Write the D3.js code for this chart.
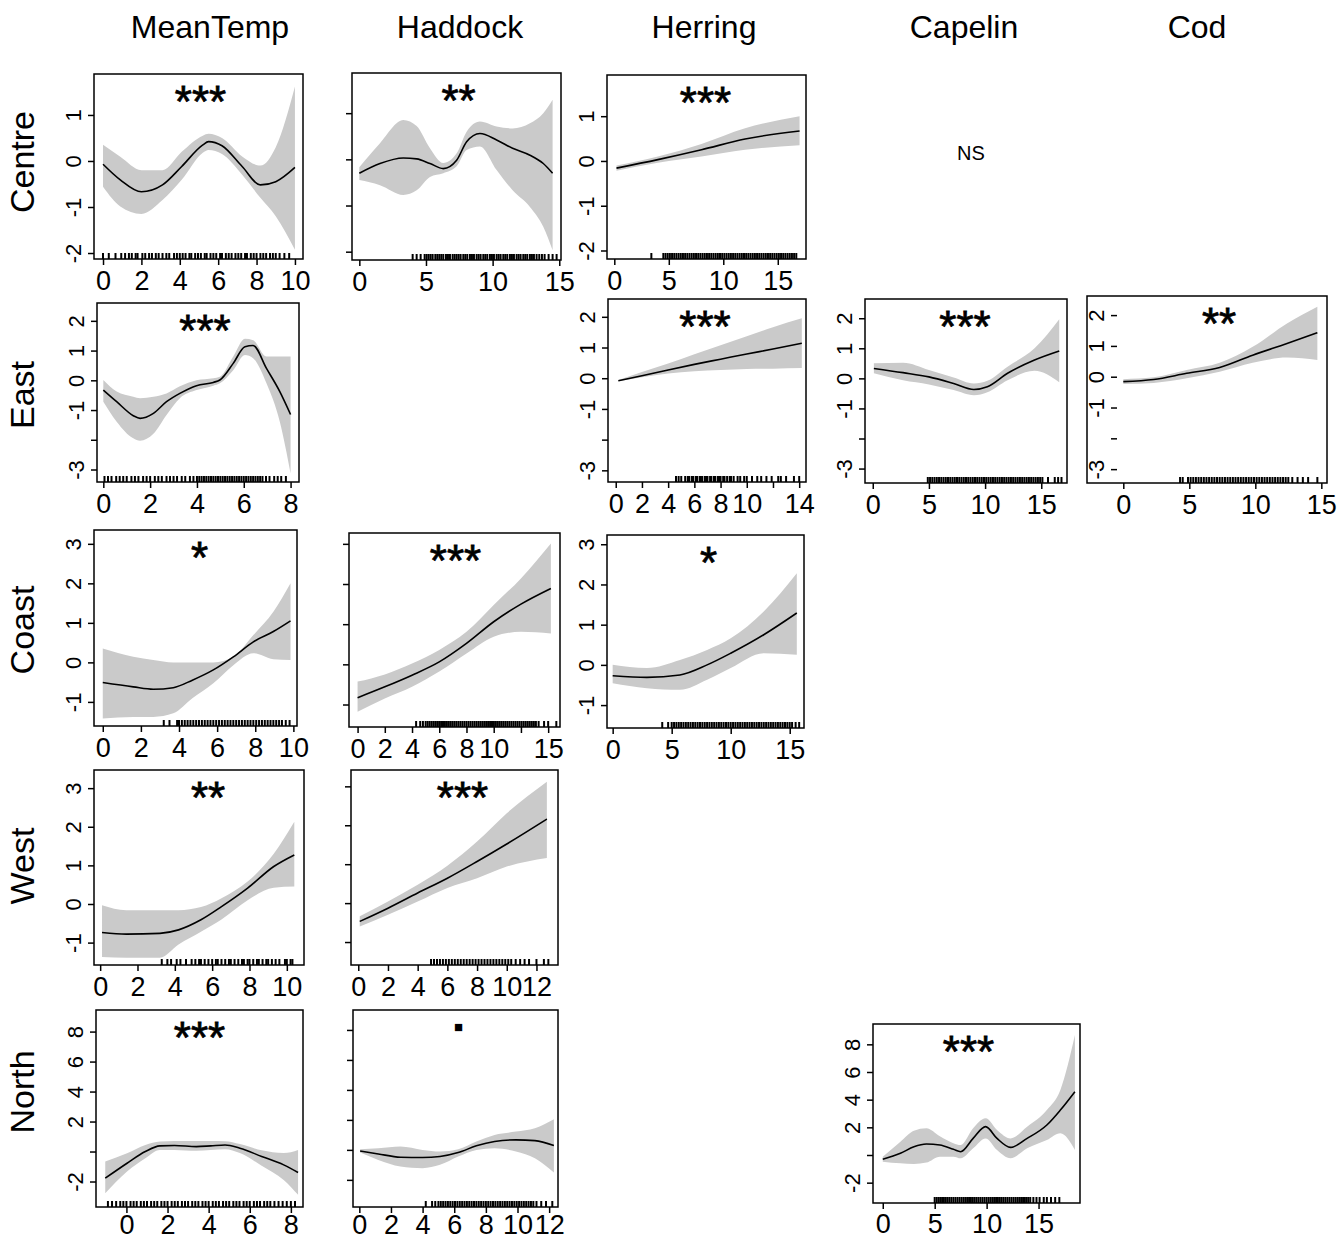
<!DOCTYPE html>
<html lang="en">
<head>
<meta charset="UTF-8">
<title>Smooth effects by region</title>
<script src="https://d3js.org/d3.v7.min.js"></script>
<style>
  body { margin: 0; background: #fff; }
  svg { display: block; font-family: "Liberation Sans", Arial, sans-serif; }
  .band { fill: #cacaca; stroke: none; }
  .fit { fill: none; stroke: #000; stroke-width: 1.6px; }
  .box { fill: none; stroke: #000; stroke-width: 1.5px; }
  .rug { stroke: #000; stroke-width: 2px; }
  .tick line { stroke: #000; stroke-width: 1.5px; }
  .sig { stroke: #000; stroke-width: 0.8px; }
</style>
</head>
<body>
<svg width="1340" height="1241"></svg>
<script>
// ---- labels ----
const columns = ["MeanTemp", "Haddock", "Herring", "Capelin", "Cod"];
const rows = ["Centre", "East", "Coast", "West", "North"];

// ---- tick values / labels ----
const xT10by2 = [0, 2, 4, 6, 8, 10];
const xT8by2 = [0, 2, 4, 6, 8];
const xT12by2 = [0, 2, 4, 6, 8, 10, 12];
const xT14by2 = [0, 2, 4, 6, 8, 10, 12, 14];
const xT15by5 = [0, 5, 10, 15];
const xL14East = ["0", "2", "4", "6", "8", "10", "", "14"];
const xL14Coast = ["0", "2", "4", "6", "8", "10", "", "15"];
const yTcentre = [-2, -1, 0, 1];
const yTeast = [-3, -2, -1, 0, 1, 2];
const yLeast = ["-3", "", "-1", "0", "1", "2"];
const yTcoast = [-1, 0, 1, 2, 3];
const yTnorth = [-2, 0, 2, 4, 6, 8];
const yLnorth = ["-2", "", "2", "4", "6", "8"];

// ---- Centre ----
const centreTempX   = [0, 0.9, 2.0, 3.1, 4.1, 5.2, 5.5, 6.2, 7.25, 8.2, 9.0, 10];
const centreTempFit = [-0.07, -0.41, -0.67, -0.52, -0.12, 0.35, 0.42, 0.33, -0.12, -0.52, -0.45, -0.14];
const centreTempHi  = [0.35, 0.09, -0.2, -0.2, 0.2, 0.55, 0.59, 0.5, 0.1, -0.1, 0.3, 1.62];
const centreTempLo  = [-0.56, -0.99, -1.15, -0.85, -0.41, 0.18, 0.24, 0.15, -0.3, -0.8, -1.2, -1.93];
const centreTempRug = [0, 0.3, 0.65, 0.95, 1.15, 1.35, 1.5, 1.7, 1.8, 2.05, 2.2, 2.4, 2.55, 2.75, 2.9, 3.1, 3.3, 3.45, 3.7, 3.85, 4.0, 4.15, 4.3, 4.5, 4.6, 4.8, 4.95, 5.1, 5.3, 5.4, 5.6, 5.75, 5.9, 6.1, 6.2, 6.4, 6.55, 6.7, 6.9, 7.05, 7.2, 7.4, 7.5, 7.7, 7.85, 8.0, 8.2, 8.35, 8.5, 8.7, 8.85, 9.0, 9.2, 9.45, 9.7];

const centreHaddockX   = [0, 1.55, 3.3, 4.3, 5.3, 6.3, 7.3, 8.05, 9.05, 10.3, 11.5, 12.8, 13.8, 14.5];
const centreHaddockFit = [-0.3, -0.09, 0.03, 0.01, -0.09, -0.2, -0.02, 0.38, 0.56, 0.42, 0.24, 0.09, -0.09, -0.3];
const centreHaddockHi  = [-0.17, 0.35, 0.85, 0.72, 0.24, -0.08, 0.13, 0.6, 0.82, 0.71, 0.67, 0.78, 1.0, 1.29];
const centreHaddockLo  = [-0.45, -0.56, -0.77, -0.67, -0.38, -0.3, -0.15, 0.2, 0.28, -0.23, -0.67, -1.03, -1.46, -1.97];
const centreHaddockRug = [4.0, 4.3, 4.6, 4.9, 5.05, 5.2, 5.35, 5.5, 5.7, 5.85, 6.0, 6.15, 6.3, 6.5, 6.65, 6.8, 7.0, 7.15, 7.3, 7.45, 7.6, 7.8, 7.95, 8.1, 8.3, 8.45, 8.6, 8.8, 8.95, 9.1, 9.3, 9.45, 9.6, 9.8, 9.95, 10.1, 10.3, 10.45, 10.6, 10.8, 10.95, 11.1, 11.3, 11.45, 11.6, 11.8, 11.95, 12.1, 12.3, 12.45, 12.6, 12.8, 12.95, 13.1, 13.3, 13.5, 13.7, 13.9, 14.2, 14.5, 14.8];

const centreHerringX   = [0.2, 4, 8, 12, 17];
const centreHerringFit = [-0.16, 0.03, 0.25, 0.49, 0.67];
const centreHerringHi  = [-0.1, 0.1, 0.38, 0.73, 1.0];
const centreHerringLo  = [-0.22, -0.04, 0.1, 0.25, 0.35];
const centreHerringRug = [3.4, 4.5, 4.7, 4.9, 5.1, 5.3, 5.5, 5.7, 5.9, 6.1, 6.3, 6.5, 6.7, 6.9, 7.1, 7.3, 7.5, 7.7, 7.9, 8.1, 8.3, 8.5, 8.7, 8.9, 9.1, 9.3, 9.5, 9.7, 9.9, 10.1, 10.3, 10.5, 10.7, 10.9, 11.1, 11.3, 11.5, 11.7, 11.9, 12.1, 12.3, 12.5, 12.7, 12.9, 13.1, 13.3, 13.5, 13.7, 13.9, 14.1, 14.3, 14.5, 14.7, 14.9, 15.1, 15.3, 15.5, 15.7, 15.9, 16.1, 16.3, 16.5, 16.7];

// ---- East ----
const eastTempX   = [0, 0.57, 1.28, 1.57, 2.14, 2.7, 3.27, 3.98, 4.7, 4.98, 5.55, 6.05, 6.4, 6.97, 7.54, 8.0];
const eastTempFit = [-0.33, -0.72, -1.19, -1.28, -1.11, -0.72, -0.44, -0.18, -0.07, 0.01, 0.57, 1.13, 1.17, 0.4, -0.38, -1.15];
const eastTempHi  = [0.01, -0.38, -0.55, -0.6, -0.55, -0.44, -0.2, 0.0, 0.07, 0.12, 0.8, 1.4, 1.35, 0.8, 0.8, 0.8];
const eastTempLo  = [-0.72, -1.39, -1.95, -2.03, -1.8, -1.17, -0.6, -0.33, -0.18, -0.1, 0.34, 0.85, 0.74, -0.1, -1.39, -3.13];
const eastTempRug = [0.05, 0.2, 0.35, 0.55, 0.7, 0.85, 1.0, 1.2, 1.35, 1.5, 1.7, 1.85, 2.0, 2.2, 2.35, 2.5, 2.7, 2.85, 3.0, 3.15, 3.35, 3.5, 3.7, 3.85, 4.0, 4.1, 4.2, 4.3, 4.4, 4.5, 4.6, 4.7, 4.8, 4.9, 5.0, 5.1, 5.2, 5.3, 5.4, 5.5, 5.6, 5.7, 5.8, 5.9, 6.0, 6.1, 6.2, 6.3, 6.4, 6.5, 6.6, 6.7, 6.8, 6.95, 7.1, 7.3, 7.45, 7.6, 7.8];

const eastHerringX   = [0.2, 2, 4, 6, 8, 10, 12, 14.2];
const eastHerringFit = [-0.08, 0.08, 0.27, 0.45, 0.62, 0.79, 0.95, 1.14];
const eastHerringHi  = [-0.06, 0.2, 0.48, 0.78, 1.07, 1.37, 1.66, 1.95];
const eastHerringLo  = [-0.1, 0.03, 0.15, 0.23, 0.27, 0.3, 0.31, 0.33];
const eastHerringRug = [4.6, 4.8, 5.0, 5.3, 5.5, 5.6, 5.8, 5.9, 6.1, 6.2, 6.4, 6.5, 6.6, 6.8, 6.9, 7.0, 7.2, 7.3, 7.5, 7.6, 7.8, 7.9, 8.0, 8.2, 8.3, 8.5, 8.7, 8.8, 9.0, 9.3, 9.5, 9.8, 10.0, 10.4, 10.8, 11.1, 11.5, 11.9, 12.4, 12.6, 13.0, 13.6, 14.0];

const eastCapelinX   = [0.1, 2.7, 5, 7.2, 9, 10.2, 12, 14.4, 16.6];
const eastCapelinFit = [0.33, 0.19, 0.05, -0.17, -0.37, -0.28, 0.17, 0.61, 0.91];
const eastCapelinHi  = [0.5, 0.52, 0.28, 0.03, -0.17, -0.08, 0.39, 1.0, 1.97];
const eastCapelinLo  = [0.17, -0.06, -0.2, -0.39, -0.56, -0.46, -0.06, 0.25, -0.13];
const eastCapelinRug = [4.9, 5.1, 5.3, 5.5, 5.7, 5.9, 6.1, 6.3, 6.5, 6.7, 6.9, 7.1, 7.3, 7.5, 7.7, 7.9, 8.1, 8.3, 8.5, 8.7, 8.9, 9.1, 9.3, 9.5, 9.7, 9.9, 10.1, 10.3, 10.5, 10.7, 10.9, 11.1, 11.3, 11.5, 11.7, 11.9, 12.1, 12.3, 12.5, 12.7, 12.9, 13.1, 13.3, 13.5, 13.7, 13.9, 14.1, 14.3, 14.5, 14.7, 14.9, 15.1, 15.6, 16.2, 16.5, 16.8];

const eastCodX   = [0, 2.3, 4.8, 7.3, 9.8, 12.4, 14.7];
const eastCodFit = [-0.16, -0.09, 0.11, 0.3, 0.7, 1.08, 1.43];
const eastCodHi  = [-0.08, -0.02, 0.22, 0.45, 0.97, 1.73, 2.27];
const eastCodLo  = [-0.24, -0.2, -0.05, 0.16, 0.45, 0.62, 0.54];
const eastCodRug = [4.3, 4.5, 4.9, 5.1, 5.3, 5.5, 5.7, 5.9, 6.1, 6.3, 6.5, 6.7, 6.9, 7.1, 7.3, 7.5, 7.7, 7.9, 8.1, 8.3, 8.5, 8.7, 8.9, 9.1, 9.3, 9.5, 9.7, 9.9, 10.1, 10.3, 10.5, 10.7, 10.9, 11.1, 11.3, 11.5, 11.7, 11.9, 12.1, 12.3, 12.5, 12.8, 13.2, 13.6, 14.0, 14.7];

// ---- Coast ----
const coastTempX   = [0, 1.6, 2.65, 3.7, 4.7, 5.8, 6.85, 7.9, 8.95, 9.85];
const coastTempFit = [-0.51, -0.62, -0.68, -0.64, -0.45, -0.19, 0.14, 0.52, 0.78, 1.05];
const coastTempHi  = [0.35, 0.14, 0.06, 0.0, 0.0, 0.0, 0.14, 0.69, 1.28, 2.0];
const coastTempLo  = [-1.42, -1.38, -1.38, -1.29, -0.91, -0.53, -0.07, 0.23, 0.08, 0.06];
const coastTempRug = [3.2, 3.5, 3.9, 4.0, 4.15, 4.3, 4.45, 4.6, 4.75, 4.9, 5.05, 5.2, 5.35, 5.5, 5.65, 5.8, 5.95, 6.1, 6.25, 6.4, 6.55, 6.7, 6.85, 7.0, 7.15, 7.3, 7.45, 7.6, 7.75, 7.9, 8.05, 8.2, 8.35, 8.5, 8.65, 8.8, 8.95, 9.1, 9.25, 9.4, 9.6, 9.8];

const coastHaddockX   = [0, 2, 4, 6, 8, 10, 12, 14.2];
const coastHaddockFit = [-0.83, -0.56, -0.27, 0.06, 0.52, 1.06, 1.5, 1.89];
const coastHaddockHi  = [-0.43, -0.25, 0.02, 0.36, 0.81, 1.48, 2.14, 3.01];
const coastHaddockLo  = [-1.18, -0.85, -0.56, -0.18, 0.27, 0.69, 0.81, 0.77];
const coastHaddockRug = [4.3, 4.6, 4.8, 5.0, 5.15, 5.3, 5.45, 5.6, 5.75, 5.9, 6.05, 6.2, 6.35, 6.5, 6.65, 6.8, 6.95, 7.1, 7.25, 7.4, 7.55, 7.7, 7.85, 8.0, 8.15, 8.3, 8.45, 8.6, 8.75, 8.9, 9.05, 9.2, 9.35, 9.5, 9.65, 9.8, 9.95, 10.1, 10.25, 10.4, 10.55, 10.7, 10.85, 11.0, 11.15, 11.3, 11.45, 11.6, 11.75, 11.9, 12.05, 12.2, 12.35, 12.5, 12.65, 12.8, 12.95, 13.1, 13.3, 13.7, 14.0, 14.6];

const coastHerringX   = [0, 2.9, 5.7, 8, 10, 12.8, 15.6];
const coastHerringFit = [-0.27, -0.31, -0.25, 0.0, 0.29, 0.75, 1.29];
const coastHerringHi  = [0.0, -0.08, 0.12, 0.37, 0.66, 1.33, 2.28];
const coastHerringLo  = [-0.46, -0.58, -0.62, -0.37, -0.08, 0.29, 0.25];
const coastHerringRug = [4.2, 4.7, 5.0, 5.2, 5.4, 5.6, 5.8, 6.0, 6.2, 6.4, 6.6, 6.8, 7.0, 7.2, 7.4, 7.6, 7.8, 8.0, 8.2, 8.4, 8.6, 8.8, 9.0, 9.2, 9.4, 9.6, 9.8, 10.0, 10.2, 10.4, 10.6, 10.8, 11.0, 11.2, 11.4, 11.6, 11.8, 12.0, 12.2, 12.4, 12.6, 12.8, 13.0, 13.2, 13.4, 13.6, 13.8, 14.0, 14.2, 14.4, 14.6, 14.8, 15.0, 15.2, 15.5, 15.8];

// ---- West ----
const westTempX   = [0.1, 1.4, 3.2, 4.2, 5.4, 6.5, 7.9, 9.3, 10.4];
const westTempFit = [-0.74, -0.78, -0.76, -0.67, -0.41, -0.07, 0.41, 0.97, 1.27];
const westTempHi  = [-0.03, -0.16, -0.16, -0.16, -0.08, 0.15, 0.58, 1.3, 2.13];
const westTempLo  = [-1.37, -1.39, -1.39, -1.05, -0.72, -0.4, 0.1, 0.42, 0.45];
const westTempRug = [3.3, 3.6, 3.8, 4.1, 4.3, 4.6, 4.9, 5.1, 5.3, 5.4, 5.6, 5.8, 6.0, 6.2, 6.3, 6.5, 6.7, 6.9, 7.0, 7.2, 7.4, 7.6, 7.7, 7.9, 8.0, 8.2, 8.4, 8.5, 8.7, 8.9, 9.0, 9.2, 9.4, 9.6, 9.9, 10.0, 10.2, 10.3];

const westHaddockX   = [0.1, 2, 4, 6, 8, 10, 12.7];
const westHaddockFit = [-0.47, -0.13, 0.26, 0.64, 1.07, 1.52, 2.16];
const westHaddockHi  = [-0.34, 0.04, 0.47, 0.96, 1.58, 2.31, 3.12];
const westHaddockLo  = [-0.6, -0.3, 0.04, 0.39, 0.64, 0.94, 1.16];
const westHaddockRug = [4.9, 5.1, 5.3, 5.5, 5.7, 5.9, 6.1, 6.3, 6.5, 6.7, 6.9, 7.1, 7.3, 7.5, 7.7, 7.9, 8.1, 8.3, 8.5, 8.7, 8.9, 9.1, 9.3, 9.5, 9.7, 9.9, 10.1, 10.3, 10.6, 10.9, 11.2, 11.5, 12.0, 12.5, 12.8];

// ---- North ----
const northTempX   = [-1.03, 0.03, 0.92, 1.63, 2.34, 3.4, 4.1, 4.8, 5.52, 6.58, 7.65, 8.35];
const northTempFit = [-1.78, -0.78, 0.0, 0.38, 0.4, 0.33, 0.38, 0.44, 0.22, -0.33, -0.89, -1.4];
const northTempHi  = [-0.67, -0.11, 0.44, 0.67, 0.71, 0.71, 0.71, 0.69, 0.5, 0.08, -0.1, 0.11];
const northTempLo  = [-2.78, -1.33, -0.44, 0.11, 0.11, 0.05, 0.11, 0.16, -0.1, -0.95, -1.9, -2.89];
const northTempRug = [-0.9, -0.7, -0.5, -0.3, -0.15, 0.0, 0.2, 0.35, 0.5, 0.7, 0.85, 1.0, 1.2, 1.35, 1.5, 1.7, 1.85, 2.0, 2.2, 2.35, 2.5, 2.7, 2.85, 3.0, 3.2, 3.35, 3.5, 3.7, 3.85, 4.0, 4.2, 4.35, 4.5, 4.7, 4.85, 5.0, 5.2, 5.35, 5.5, 5.7, 5.85, 6.0, 6.2, 6.35, 6.5, 6.7, 6.85, 7.0, 7.2, 7.4, 7.6, 7.8, 8.0, 8.2];

const northHaddockX   = [0.05, 1.2, 2.6, 4.0, 5.1, 6.25, 7.4, 8.55, 9.9, 11.1, 12.3];
const northHaddockFit = [-0.07, -0.27, -0.49, -0.51, -0.44, -0.18, 0.27, 0.56, 0.67, 0.62, 0.29];
const northHaddockHi  = [0.04, 0.11, 0.22, 0.0, -0.11, 0.04, 0.56, 1.0, 1.22, 1.44, 2.04];
const northHaddockLo  = [-0.18, -0.67, -1.11, -1.22, -1.0, -0.44, 0.0, 0.11, -0.11, -0.56, -1.51];
const northHaddockRug = [4.2, 4.6, 4.8, 5.0, 5.15, 5.3, 5.45, 5.6, 5.75, 5.9, 6.05, 6.2, 6.35, 6.5, 6.65, 6.8, 6.95, 7.1, 7.25, 7.4, 7.55, 7.7, 7.85, 8.0, 8.15, 8.3, 8.45, 8.6, 8.75, 8.9, 9.05, 9.2, 9.35, 9.5, 9.65, 9.8, 9.95, 10.1, 10.25, 10.4, 10.55, 10.7, 10.85, 11.0, 11.2, 11.5, 11.8, 12.2];

const northCapelinX   = [0, 1.7, 3.0, 4.2, 5.5, 6.8, 7.5, 8.7, 9.9, 11.0, 12.3, 13.9, 15.8, 17.1, 18.5];
const northCapelinFit = [-0.31, 0.12, 0.6, 0.8, 0.72, 0.41, 0.24, 1.2, 2.05, 1.2, 0.55, 1.2, 2.17, 3.25, 4.58];
const northCapelinHi  = [-0.12, 0.96, 1.75, 1.93, 1.35, 0.85, 0.72, 1.93, 2.65, 1.81, 1.2, 2.05, 3.25, 4.7, 8.67];
const northCapelinLo  = [-0.48, -0.6, -0.65, -0.55, -0.12, -0.12, -0.24, 0.48, 1.2, 0.36, -0.24, 0.48, 1.08, 1.57, 0.36];
const northCapelinRug = [5.0, 5.2, 5.4, 5.6, 5.8, 6.0, 6.2, 6.4, 6.6, 6.8, 7.0, 7.2, 7.4, 7.6, 7.8, 8.0, 8.2, 8.4, 8.6, 8.8, 9.0, 9.2, 9.4, 9.6, 9.8, 10.0, 10.2, 10.4, 10.6, 10.8, 11.0, 11.2, 11.4, 11.6, 11.8, 12.0, 12.2, 12.4, 12.6, 12.8, 13.0, 13.2, 13.4, 13.6, 13.8, 14.0, 14.2, 14.5, 14.8, 15.1, 15.5, 15.8, 16.2, 16.6, 17.0];

// significance codes per panel
const sigCodes = ["***", "**", "***", "***", "***", "***", "**", "*", "***", "*", "**", "***", "***", "\u25A0", "***"];

// ---- panels (data + axis spec) ----
const panels = [
  { x: centreTempX, fit: centreTempFit, hi: centreTempHi, lo: centreTempLo, rug: centreTempRug, xt: xT10by2, yt: yTcentre, yl: true },
  { x: centreHaddockX, fit: centreHaddockFit, hi: centreHaddockHi, lo: centreHaddockLo, rug: centreHaddockRug, xt: xT15by5, yt: yTcentre, yl: false },
  { x: centreHerringX, fit: centreHerringFit, hi: centreHerringHi, lo: centreHerringLo, rug: centreHerringRug, xt: xT15by5, yt: yTcentre, yl: true },
  { x: eastTempX, fit: eastTempFit, hi: eastTempHi, lo: eastTempLo, rug: eastTempRug, xt: xT8by2, yt: yTeast, yl: yLeast },
  { x: eastHerringX, fit: eastHerringFit, hi: eastHerringHi, lo: eastHerringLo, rug: eastHerringRug, xt: xT14by2, xl: xL14East, yt: yTeast, yl: yLeast },
  { x: eastCapelinX, fit: eastCapelinFit, hi: eastCapelinHi, lo: eastCapelinLo, rug: eastCapelinRug, xt: xT15by5, yt: yTeast, yl: yLeast },
  { x: eastCodX, fit: eastCodFit, hi: eastCodHi, lo: eastCodLo, rug: eastCodRug, xt: xT15by5, yt: yTeast, yl: yLeast },
  { x: coastTempX, fit: coastTempFit, hi: coastTempHi, lo: coastTempLo, rug: coastTempRug, xt: xT10by2, yt: yTcoast, yl: true },
  { x: coastHaddockX, fit: coastHaddockFit, hi: coastHaddockHi, lo: coastHaddockLo, rug: coastHaddockRug, xt: xT14by2, xl: xL14Coast, yt: yTcoast, yl: false },
  { x: coastHerringX, fit: coastHerringFit, hi: coastHerringHi, lo: coastHerringLo, rug: coastHerringRug, xt: xT15by5, yt: yTcoast, yl: true },
  { x: westTempX, fit: westTempFit, hi: westTempHi, lo: westTempLo, rug: westTempRug, xt: xT10by2, yt: yTcoast, yl: true },
  { x: westHaddockX, fit: westHaddockFit, hi: westHaddockHi, lo: westHaddockLo, rug: westHaddockRug, xt: xT12by2, yt: yTcoast, yl: false },
  { x: northTempX, fit: northTempFit, hi: northTempHi, lo: northTempLo, rug: northTempRug, xt: xT8by2, yt: yTnorth, yl: yLnorth },
  { x: northHaddockX, fit: northHaddockFit, hi: northHaddockHi, lo: northHaddockLo, rug: northHaddockRug, xt: xT12by2, yt: yTnorth, yl: false },
  { x: northCapelinX, fit: northCapelinFit, hi: northCapelinHi, lo: northCapelinLo, rug: northCapelinRug, xt: xT15by5, yt: yTnorth, yl: yLnorth }
];

// ---- layout: pixel box [left, right, top, bottom], axis limits, star offset, y-axis position ----
const layout = [
  { box: [94, 303, 74, 259],    xlim: [-0.47, 10.42], ylim: [-2.13, 1.89], sdx: 2 },
  { box: [352, 561, 73, 260],   xlim: [-0.55, 15.13], ylim: [-2.18, 1.87], sdx: 2 },
  { box: [607, 806, 75, 259],   xlim: [-0.67, 17.59], ylim: [-2.19, 1.92], sdx: -1 },
  { box: [97, 299, 303, 482],   xlim: [-0.27, 8.36],  ylim: [-3.42, 2.60], sdx: 7 },
  { box: [608, 806, 299, 482],  xlim: [-0.59, 14.52], ylim: [-3.38, 2.58], sdx: -2 },
  { box: [865, 1067, 299, 483], xlim: [-0.69, 17.29], ylim: [-3.48, 2.64], sdx: -1 },
  { box: [1087, 1327, 296, 483], xlim: [-2.75, 15.43], ylim: [-3.45, 2.62], sdx: 12, yAxisX: 1117 },
  { box: [94, 297, 530, 726],   xlim: [-0.46, 10.19], ylim: [-1.61, 3.35], sdx: 4 },
  { box: [349, 560, 533, 727],  xlim: [-0.63, 14.87], ylim: [-1.56, 3.27], sdx: 1 },
  { box: [607, 804, 535, 728],  xlim: [-0.48, 16.21], ylim: [-1.57, 3.23], sdx: 3 },
  { box: [94, 304, 770, 965],   xlim: [-0.33, 10.92], ylim: [-1.58, 3.47], sdx: 9 },
  { box: [351, 558, 770, 965],  xlim: [-0.49, 13.45], ylim: [-1.59, 3.42], sdx: 8 },
  { box: [96, 303, 1010, 1207], xlim: [-1.48, 8.59],  ylim: [-3.70, 9.44], sdx: 0, xly: 27 },
  { box: [353, 558, 1010, 1207], xlim: [-0.40, 12.56], ylim: [-3.81, 9.33], sdx: 3, xly: 27 },
  { box: [873, 1080, 1024, 1203], xlim: [-0.94, 18.99], ylim: [-3.47, 9.47], sdx: -8, xly: 30 }
];
const colCenters = [210, 460, 704, 964, 1197];
const rowCenters = [162, 395, 630, 866, 1092];

const svg = d3.select("svg");
const FONT = '"Liberation Sans", Arial, sans-serif';

// column headers
svg.selectAll(".colhead")
  .data(columns)
  .join("text")
  .attr("class", "colhead")
  .attr("x", (d, i) => colCenters[i])
  .attr("y", 38)
  .attr("text-anchor", "middle")
  .attr("font-size", 32)
  .text(d => d);

// row labels (rotated)
svg.selectAll(".rowhead")
  .data(rows)
  .join("text")
  .attr("class", "rowhead")
  .attr("transform", (d, i) => `translate(34,${rowCenters[i]}) rotate(-90)`)
  .attr("text-anchor", "middle")
  .attr("font-size", 34)
  .text(d => d);

panels.forEach((p, i) => {
  const L = layout[i];
  const [x0, x1, y0, y1] = L.box;
  const x = d3.scaleLinear().domain(L.xlim).range([x0, x1]);
  const y = d3.scaleLinear().domain(L.ylim).range([y1, y0]);
  const g = svg.append("g");

  const pts = p.x.map((v, k) => ({ x: v, fit: p.fit[k], lo: p.lo[k], hi: p.hi[k] }));

  g.append("path")
    .datum(pts)
    .attr("class", "band")
    .attr("d", d3.area().curve(d3.curveMonotoneX)
      .x(d => x(d.x)).y0(d => y(d.lo)).y1(d => y(d.hi)));

  g.append("path")
    .datum(pts)
    .attr("class", "fit")
    .attr("d", d3.line().curve(d3.curveMonotoneX)
      .x(d => x(d.x)).y(d => y(d.fit)));

  // rug
  g.selectAll(".rug")
    .data(p.rug)
    .join("line")
    .attr("class", "rug")
    .attr("x1", d => x(d)).attr("x2", d => x(d))
    .attr("y1", y1).attr("y2", y1 - 6);

  g.append("rect")
    .attr("class", "box")
    .attr("x", x0).attr("y", y0)
    .attr("width", x1 - x0).attr("height", y1 - y0);

  // x axis
  const ax = g.append("g")
    .attr("transform", `translate(0,${y1})`)
    .call(d3.axisBottom(x).tickValues(p.xt).tickSize(6).tickSizeOuter(0)
      .tickFormat((d, k) => p.xl ? p.xl[k] : String(d)));
  ax.select(".domain").remove();
  ax.selectAll("text")
    .attr("y", L.xly || 31).attr("dy", 0)
    .attr("fill", "#000")
    .style("font-family", FONT).style("font-size", "27px");

  // y axis
  const ay = g.append("g")
    .attr("transform", `translate(${L.yAxisX || x0},0)`)
    .call(d3.axisLeft(y).tickValues(p.yt).tickSize(6).tickSizeOuter(0)
      .tickFormat((d, k) => p.yl === true ? String(d) : (p.yl ? p.yl[k] : "")));
  ay.select(".domain").remove();
  ay.selectAll("text")
    .attr("transform", "rotate(-90)")
    .attr("x", 0).attr("y", -13).attr("dy", 0)
    .attr("text-anchor", "middle")
    .attr("fill", "#000")
    .style("font-family", FONT).style("font-size", "22px");

  // significance code
  const cx = (x0 + x1) / 2 + L.sdx;
  const isDot = sigCodes[i] === "\u25A0";
  g.append("text")
    .attr("class", isDot ? null : "sig")
    .attr("x", cx)
    .attr("y", isDot ? y0 + 22 : y0 + 43)
    .attr("text-anchor", "middle")
    .attr("font-size", isDot ? 15 : 44)
    .text(sigCodes[i]);
});

// non-significant Centre/Capelin
svg.append("text")
  .attr("x", 971).attr("y", 160)
  .attr("text-anchor", "middle")
  .attr("font-size", 20)
  .text("NS");
</script>
</body>
</html>
